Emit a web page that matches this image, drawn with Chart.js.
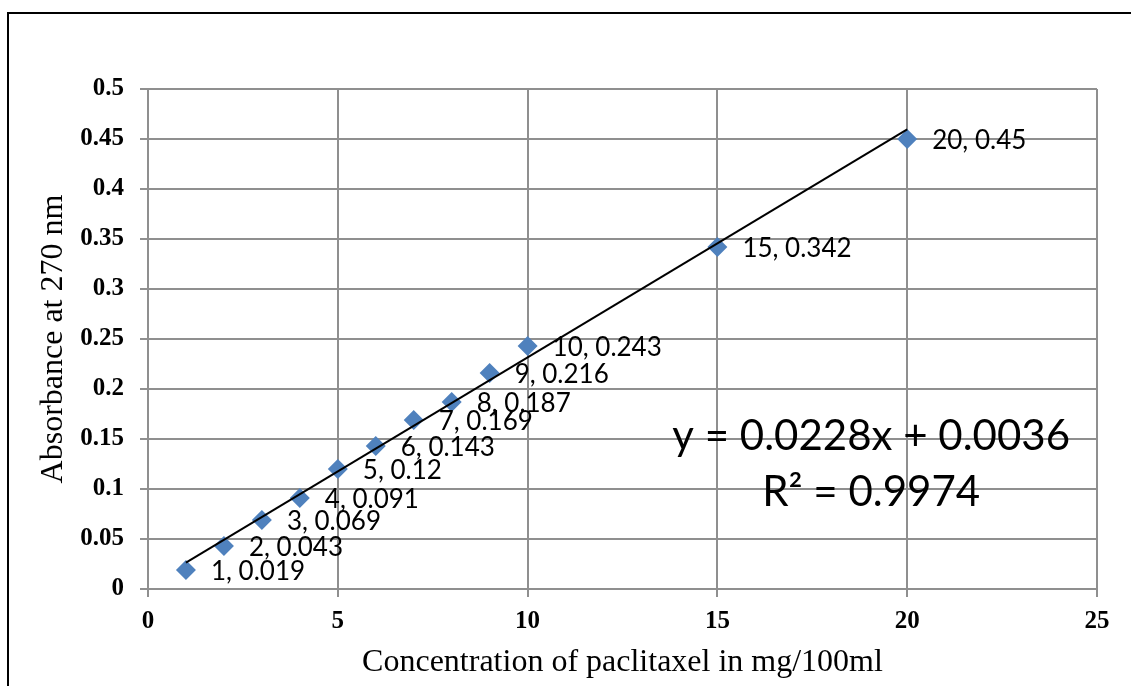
<!DOCTYPE html>
<html>
<head>
<meta charset="utf-8">
<script src="https://cdn.jsdelivr.net/npm/chart.js@4"></script>
<style>
    html, body { margin: 0; padding: 0; background: #ffffff; overflow: hidden; }
    #wrap { position: relative; width: 1131px; height: 686px; }
    #frame {
        position: absolute; left: 7px; top: 12px; width: 1200px; height: 700px;
        border-top: 2px solid #000; border-left: 2px solid #000;
    }
    #chartBox { position: absolute; left: 0; top: 0; width: 1131px; height: 686px; }
</style>
</head>
<body>
<div id="wrap">
    <div id="frame"></div>
    <div id="chartBox"><canvas id="calibration"></canvas></div>
</div>
<script>
    // Calibration points: concentration (mg/100ml) vs absorbance
    const concentration = [1, 2, 3, 4, 5, 6, 7, 8, 9, 10, 15, 20];
    const absorbance = [0.019, 0.043, 0.069, 0.091, 0.12, 0.143, 0.169, 0.187, 0.216, 0.243, 0.342, 0.45];

    // Linear trendline end points (y = 0.0228x + 0.0036)
    const trendX = [1, 20];
    const trendY = [0.0264, 0.4596];
    const equationText = 'y = 0.0228x + 0.0036';
    const rSquaredText = 'R\u00b2 = 0.9974';

    // Axis ticks
    const xTickLabels = ['0', '5', '10', '15', '20', '25'];
    const yTickLabels = ['0', '0.05', '0.1', '0.15', '0.2', '0.25', '0.3', '0.35', '0.4', '0.45', '0.5'];

    const GRID = '#8f8f8f';
    const MARKER = '#4f81bd';
    const SANS = 'Lato, "Open Sans", sans-serif';
    const SERIF = '"Times New Roman", "Liberation Serif", serif';

    // Point labels "x, y" to the right of each marker
    const pointLabels = {
        id: 'pointLabels',
        afterDatasetsDraw(chart) {
            const meta = chart.getDatasetMeta(1);
            const ctx = chart.ctx;
            ctx.save();
            ctx.font = '26px ' + SANS;
            ctx.fillStyle = '#000';
            ctx.textAlign = 'left';
            ctx.textBaseline = 'alphabetic';
            meta.data.forEach((pt, i) => {
                ctx.fillText(concentration[i] + ', ' + absorbance[i], pt.x + 25, pt.y + 10);
            });
            ctx.restore();
        }
    };

    // Trendline equation and R squared, placed in data units
    const equationLabel = {
        id: 'equationLabel',
        afterDatasetsDraw(chart) {
            const { ctx, scales } = chart;
            const cx = scales.x.getPixelForValue(19.05);
            ctx.save();
            ctx.font = '42px ' + SANS;
            ctx.fillStyle = '#000';
            ctx.textAlign = 'center';
            ctx.textBaseline = 'alphabetic';
            ctx.fillText(equationText, cx, scales.y.getPixelForValue(0.139));
            ctx.fillText(rSquaredText, cx, scales.y.getPixelForValue(0.083));
            ctx.restore();
        }
    };

    const ctx = document.getElementById('calibration').getContext('2d');
    new Chart(ctx, {
        type: 'scatter',
        data: {
            datasets: [
                {
                    type: 'line',
                    data: trendX.map((x, i) => ({ x: x, y: trendY[i] })),
                    borderColor: '#000',
                    borderWidth: 2,
                    pointRadius: 0,
                    fill: false
                },
                {
                    data: concentration.map((x, i) => ({ x: x, y: absorbance[i] })),
                    pointStyle: 'rectRot',
                    pointRadius: 10,
                    pointBackgroundColor: MARKER,
                    pointBorderWidth: 0,
                    pointBorderColor: MARKER
                }
            ]
        },
        options: {
            responsive: true,
            maintainAspectRatio: false,
            animation: false,
            layout: {
                padding: { left: 0, top: 89, right: 34, bottom: 0 }
            },
            plugins: {
                legend: { display: false },
                tooltip: { enabled: false }
            },
            scales: {
                x: {
                    type: 'linear',
                    min: 0,
                    max: 25,
                    afterFit: (scale) => { scale.height = 97; },
                    ticks: {
                        stepSize: 5,
                        padding: 10,
                        color: '#000',
                        font: { family: SERIF, size: 25, weight: 'bold' },
                        callback: (value, index) => xTickLabels[index]
                    },
                    grid: { color: GRID, lineWidth: 2, tickLength: 8 },
                    border: { color: GRID, width: 2 },
                    title: {
                        display: true,
                        text: 'Concentration of paclitaxel in mg/100ml',
                        color: '#000',
                        font: { family: SERIF, size: 32, weight: 'normal' },
                        padding: { top: 0, bottom: 4 }
                    }
                },
                y: {
                    min: 0,
                    max: 0.5,
                    afterFit: (scale) => { scale.width = 148; },
                    ticks: {
                        stepSize: 0.05,
                        padding: 16,
                        color: '#000',
                        font: { family: SERIF, size: 25, weight: 'bold' },
                        callback: (value, index) => yTickLabels[index]
                    },
                    grid: { color: GRID, lineWidth: 2, tickLength: 8 },
                    border: { color: GRID, width: 2 },
                    title: {
                        display: true,
                        text: 'Absorbance at 270 nm',
                        color: '#000',
                        font: { family: SERIF, size: 32, weight: 'normal' },
                        padding: { top: 34, bottom: 0 }
                    }
                }
            }
        },
        plugins: [pointLabels, equationLabel]
    });
</script>
</body>
</html>
